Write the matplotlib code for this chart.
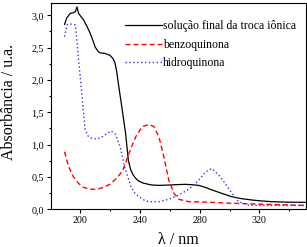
import matplotlib
matplotlib.use("Agg")
import matplotlib.pyplot as plt
from matplotlib.ticker import MultipleLocator, FuncFormatter

plt.rcParams["font.family"] = ["Liberation Serif", "DejaVu Serif"]

# solução final da troca iônica
wl_sol = [189.5, 191, 193.3, 195.5, 196.8, 197.8, 198.9, 200.5, 202.2, 204.5, 206.7,
          208.5, 210, 212, 213.3, 216.7, 220, 222, 223.3, 224.5, 225.5, 227.8, 230.4,
          232.2, 233.8, 235.5, 237.1, 239, 241.6, 245, 248.2, 253, 259, 265, 270.4,
          275, 279.3, 283, 288.2, 295, 301.5, 308, 314.9, 321, 328.2, 340, 351]
abs_sol = [2.86, 2.96, 3.03, 3.04, 3.06, 3.13, 3.03, 2.98, 2.93, 2.83, 2.72,
           2.61, 2.51, 2.44, 2.42, 2.41, 2.38, 2.33, 2.26, 2.12, 1.95, 1.59, 1.17,
           0.76, 0.61, 0.53, 0.48, 0.44, 0.41, 0.39, 0.375, 0.37, 0.375, 0.382, 0.386,
           0.38, 0.37, 0.345, 0.30, 0.245, 0.195, 0.165, 0.144, 0.13, 0.118, 0.11, 0.108]

# benzoquinona
wl_bq = [189.5, 192.2, 195.5, 198.9, 202.2, 206.7, 211.1, 215.6, 220, 224.4, 228.5,
         232.7, 237.1, 241.6, 246, 249.3, 252.7, 256, 259.3, 262.7, 266, 272.7, 286,
         300, 320, 351]
abs_bq = [0.89, 0.66, 0.50, 0.40, 0.34, 0.31, 0.31, 0.34, 0.39, 0.48, 0.60,
          0.87, 1.12, 1.28, 1.31, 1.28, 1.12, 0.81, 0.45, 0.25, 0.155, 0.118, 0.11,
          0.095, 0.08, 0.06]

# hidroquinona
wl_hq = [189.5, 191.1, 192.5, 194.5, 196.7, 197.8, 198.9, 200.4, 201.8, 203.3, 205.6,
         208.9, 213.3, 217.8, 220.7, 223.3, 226.7, 229.7, 234, 236.5, 239.3, 243, 246,
         252.7, 259.3, 266, 272.7, 279.3, 284, 288.2, 292.7, 297.1, 301.5, 306, 312.7,
         320, 335, 351]
abs_hq = [2.67, 2.85, 2.87, 2.86, 2.85, 2.6, 2.31, 1.95, 1.59, 1.23, 1.12,
          1.09, 1.10, 1.17, 1.21, 1.17, 0.97, 0.66, 0.35, 0.25, 0.195, 0.14, 0.118,
          0.118, 0.155, 0.22, 0.31, 0.45, 0.58, 0.63, 0.53, 0.40, 0.25, 0.118, 0.066,
          0.06, 0.06, 0.06]

labels = ["solução final da troca iônica", "benzoquinona", "hidroquinona"]

fig = plt.figure(figsize=(3.07, 2.47), dpi=100)
ax = fig.add_axes([0.166, 0.1526, 0.8298, 0.8364])

ax.plot(wl_sol, abs_sol, color="black", lw=0.9, label=labels[0])
ax.plot(wl_bq, abs_bq, color="#ff0000", lw=1.0, linestyle=(0, (3.6, 2.2)), label=labels[1])
ax.plot(wl_hq, abs_hq, color="#3030ff", lw=1.0, linestyle=(0, (1, 1.8)), label=labels[2])

ax.set_xlim(180.4, 351)
ax.set_ylim(0, 3.195)
ax.xaxis.set_major_locator(MultipleLocator(40))
ax.xaxis.set_minor_locator(MultipleLocator(20))
ax.yaxis.set_major_locator(MultipleLocator(0.5))
ax.yaxis.set_minor_locator(MultipleLocator(0.25))
ax.yaxis.set_major_formatter(FuncFormatter(lambda v, p: f"{v:.1f}".replace(".", ",")))

ax.tick_params(which="major", direction="out", length=3, width=0.8, labelsize=7.2, pad=2)
ax.tick_params(which="minor", direction="out", length=1.6, width=0.8)
for s in ax.spines.values():
    s.set_linewidth(0.8)

ax.set_xlabel("λ / nm", fontsize=11.5, labelpad=4.5)
ax.set_ylabel("Absorbância / u.a.", fontsize=11.5)
ax.yaxis.set_label_coords(-0.135, 0.52)

ax.legend(loc="upper left", bbox_to_anchor=(125 / 307, 1 - 20.5 / 247), bbox_transform=fig.transFigure,
          frameon=False, fontsize=8.5, handlelength=3.1, handletextpad=0.15, labelspacing=0.55,
          borderpad=0, borderaxespad=0)

fig.savefig("out.png", dpi=100)
